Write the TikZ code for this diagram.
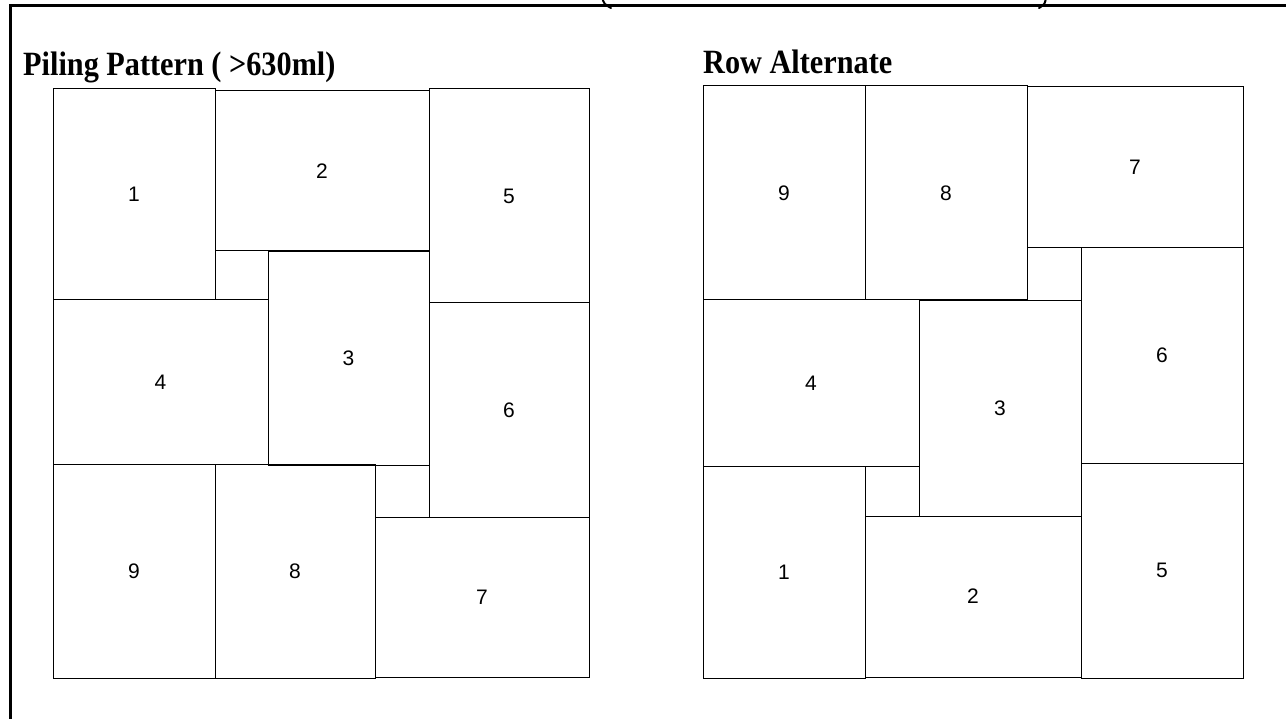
\documentclass[tikz,border=0pt]{standalone}
\usepackage{fontspec}
\setmainfont{Liberation Serif}
\newfontfamily\digitfont{Liberation Sans}
\newfontfamily\titlefont[FakeStretch=0.89]{Liberation Serif}
\tikzset{
  cell/.style={draw=black, line width=1pt, inner sep=0pt, outer sep=0pt, font=\digitfont\fontsize{21}{25}\selectfont},
  titletext/.style={anchor=base west, inner sep=0pt, font=\titlefont\bfseries\fontsize{34}{40}\selectfont},
  frameline/.style={line width=3pt, black},
  paren/.style={line width=2pt, line cap=round}
}
\newcommand\cellbox[6]{%
  \node[cell, minimum width={(#4-#2)*1pt}, minimum height={(#5-#3)*1pt}] (#1) at ({(#2+#4)/2},{(#3+#5)/2}) {#6};}
\begin{document}
\begin{tikzpicture}[x=1pt,y=-1pt]
\useasboundingbox (0,0) rectangle (1286,719);
\fill[white] (0,0) rectangle (1286,719);
% outer frame (top and left)
\coordinate (ftr) at (1290,6);
\coordinate (ftl) at (10,6);
\coordinate (fbl) at (10,725);
\draw[frameline] (ftr) -- (ftl) -- (fbl);
% cut-off parentheses at top
\draw[paren] (602,-3) .. controls (604,4) .. (611,8);
\draw[paren] (1046,-3) .. controls (1045,4) .. (1039,8);
% titles
\node[titletext] (tl) at (23,76) {Piling Pattern ( >630ml)};
\node[titletext] (tr) at (703,74) {Row Alternate};
% left pattern
\cellbox{L1}{53}{89}{215}{300}{1}
\cellbox{L2}{215}{91}{429}{251}{2}
\cellbox{L5}{429}{89}{589}{303}{5}
\cellbox{L3}{268}{252}{429}{465}{3}
\cellbox{L4}{53}{300}{268}{464}{4}
\cellbox{L6}{429}{303}{589}{517}{6}
\cellbox{L9}{53}{464}{215}{678}{9}
\cellbox{L8}{215}{464}{375}{678}{8}
\cellbox{L7}{375}{517}{589}{677}{7}
% right pattern
\cellbox{R9}{703}{86}{865}{300}{9}
\cellbox{R8}{865}{86}{1027}{300}{8}
\cellbox{R7}{1027}{87}{1243}{248}{7}
\cellbox{R6}{1081}{248}{1243}{463}{6}
\cellbox{R4}{703}{300}{919}{466}{4}
\cellbox{R3}{919}{301}{1081}{516}{3}
\cellbox{R1}{703}{466}{865}{678}{1}
\cellbox{R2}{865}{516}{1081}{677}{2}
\cellbox{R5}{1081}{463}{1243}{678}{5}
\end{tikzpicture}
\end{document}
